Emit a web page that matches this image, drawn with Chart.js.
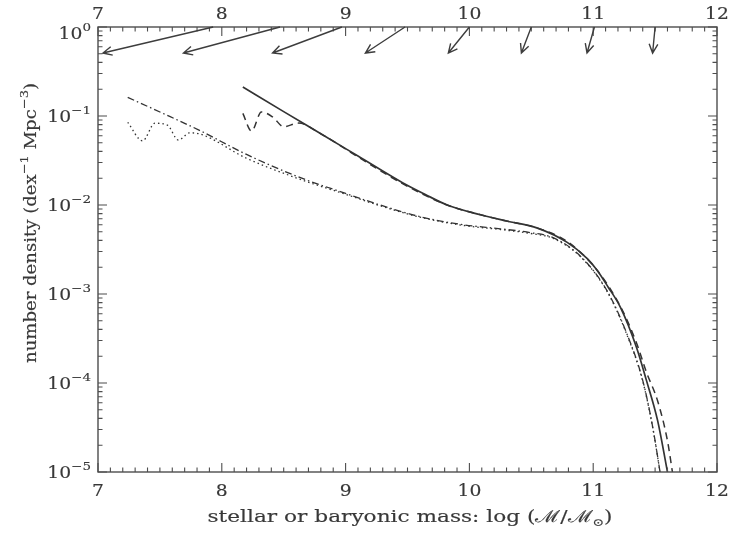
<!DOCTYPE html>
<html>
<head>
<meta charset="utf-8">
<script src="https://cdn.jsdelivr.net/npm/chart.js@4.4.1/dist/chart.umd.min.js"></script>
<style>
  html, body { margin: 0; padding: 0; background: #fff; }
</style>
</head>
<body>
<canvas id="mf" width="733" height="538"></canvas>
<script>
// Mass functions: log stellar/baryonic mass (dex) vs number density (dex^-1 Mpc^-3)

// Stellar mass function, fit (solid)
const stellarMass    = [8.17, 8.5, 8.8, 9.1, 9.46, 9.64, 9.82, 10.09, 10.3, 10.55, 10.79, 10.95, 11.03, 11.12, 11.22, 11.35, 11.43, 11.52, 11.6];
const stellarDensity = [0.212, 0.112, 0.0631, 0.0355, 0.0178, 0.0132, 0.0100, 0.00776, 0.00661, 0.00550, 0.00380, 0.00251, 0.00186, 0.00120, 0.000708, 0.000251, 0.000107, 0.000038, 0.00001];

// Stellar mass function, binned (dashed)
const binnedMass    = [8.17, 8.24, 8.32, 8.41, 8.5, 8.62, 8.8, 9.1, 9.46, 9.82, 10.09, 10.3, 10.55, 10.79, 11.03, 11.22, 11.35, 11.43, 11.52, 11.6, 11.64];
const binnedDensity = [0.107, 0.0676, 0.111, 0.0977, 0.0759, 0.0832, 0.0631, 0.0347, 0.0174, 0.0100, 0.00776, 0.00661, 0.00550, 0.00389, 0.00186, 0.000724, 0.000282, 0.000132, 0.0000631, 0.0000224, 0.00001];

// Baryonic mass function, fit (dash-dot)
const baryonMass    = [7.24, 7.5, 7.82, 8.2, 8.63, 9.0, 9.28, 9.6, 9.95, 10.25, 10.49, 10.68, 10.9, 11.11, 11.27, 11.4, 11.48, 11.54];
const baryonDensity = [0.162, 0.111, 0.069, 0.037, 0.0204, 0.0135, 0.0100, 0.0074, 0.0060, 0.0054, 0.0049, 0.00427, 0.00263, 0.0011, 0.000363, 0.000107, 0.0000324, 0.00001];

// Baryonic mass function, binned (dotted)
const baryonBinMass    = [7.24, 7.36, 7.46, 7.56, 7.65, 7.74, 7.82, 8.2, 8.63, 9.0, 9.28, 9.6, 9.95, 10.25, 10.49, 10.68, 10.9, 11.11, 11.27, 11.4, 11.48, 11.54];
const baryonBinDensity = [0.085, 0.0525, 0.083, 0.079, 0.0537, 0.0646, 0.063, 0.0335, 0.0195, 0.0132, 0.0098, 0.0073, 0.0059, 0.0053, 0.0048, 0.0042, 0.0026, 0.00108, 0.000355, 0.000105, 0.0000318, 0.00001];

// Shift arrows: stellar mass (top) -> baryonic mass (head)
const arrowFromMass = [7.93, 8.47, 8.97, 9.48, 10.0, 10.5, 11.01, 11.5];
const arrowToMass   = [7.04, 7.69, 8.41, 9.16, 9.83, 10.42, 10.95, 11.48];
const arrowFromDensity = 1.0;
const arrowToDensity   = 0.51;

// Axis ticks
const xTickValues = [7, 8, 9, 10, 11, 12];
const yTickExponents = [0, -1, -2, -3, -4, -5];

const INK = '#383838';
const AXIS = '#4d4d4d';
const SERIF = '"DejaVu Serif", "Liberation Serif", serif';

function points(xs, ys) { return xs.map((x, i) => ({ x: x, y: ys[i] })); }

// Text made of pieces (normal / superscript / subscript), drawn with a horizontal stretch
function runsWidth(ctx, runs, sx) {
  let w = 0;
  for (const r of runs) { ctx.font = r.size + 'px ' + SERIF; w += ctx.measureText(r.t).width; }
  return w * sx;
}
function drawRuns(ctx, runs, x, y, sx) {
  ctx.save();
  ctx.translate(x, y);
  ctx.scale(sx, 1);
  let cx = 0;
  for (const r of runs) {
    ctx.font = r.size + 'px ' + SERIF;
    ctx.fillText(r.t, cx, r.dy || 0);
    ctx.strokeText(r.t, cx, r.dy || 0);
    cx += ctx.measureText(r.t).width;
  }
  ctx.restore();
}
function drawCentered(ctx, runs, cx, baseline, sx) {
  const w = runsWidth(ctx, runs, sx);
  drawRuns(ctx, runs, cx - w / 2, baseline, sx);
}

const TICK_SX = 1.17;

const frameAndTicks = {
  id: 'frameAndTicks',
  afterDatasetsDraw(chart) {
    const { ctx, chartArea: a, scales: { x, y } } = chart;
    ctx.save();
    ctx.strokeStyle = AXIS;
    ctx.lineWidth = 1.4;
    ctx.strokeRect(a.left, a.top, a.right - a.left, a.bottom - a.top);
    ctx.lineWidth = 1.1;
    ctx.beginPath();
    // x ticks every 0.1, longer on integers, bottom and top, pointing inward
    for (let i = 70; i <= 120; i++) {
      const px = x.getPixelForValue(i / 10);
      const len = (i % 10 === 0) ? 9 : 4.5;
      ctx.moveTo(px, a.bottom); ctx.lineTo(px, a.bottom - len);
      ctx.moveTo(px, a.top);    ctx.lineTo(px, a.top + len);
    }
    // y ticks: decades long, 2..9 short, left and right
    for (let e = -5; e <= 0; e++) {
      for (let k = 1; k <= 9; k++) {
        if (e === 0 && k > 1) break;
        const py = y.getPixelForValue(k * Math.pow(10, e));
        const len = (k === 1) ? 9 : 4.5;
        ctx.moveTo(a.left, py);  ctx.lineTo(a.left + len, py);
        ctx.moveTo(a.right, py); ctx.lineTo(a.right - len, py);
      }
    }
    ctx.stroke();
    ctx.restore();
  },
  afterDraw(chart) {
    const { ctx, chartArea: a, scales: { x, y } } = chart;
    ctx.save();
    ctx.fillStyle = INK;
    ctx.strokeStyle = INK;
    ctx.lineWidth = 0.15;
    ctx.textBaseline = 'alphabetic';

    // x tick labels, bottom and top
    for (const v of xTickValues) {
      const px = x.getPixelForValue(v);
      const runs = [{ t: String(v), size: 16 }];
      drawCentered(ctx, runs, px, a.bottom + 24, TICK_SX);
      drawCentered(ctx, runs, px, a.top - 8, TICK_SX);
    }

    // y tick labels 10^n (the top one is kept clear of the top axis labels)
    for (const e of yTickExponents) {
      const py = Math.max(y.getPixelForValue(Math.pow(10, e)), a.top + 6);
      const exp = e === 0 ? '0' : '\u2212' + Math.abs(e);
      const runs = [{ t: '10', size: 16 }, { t: exp, size: 11.5, dy: -8 }];
      const w = runsWidth(ctx, runs, TICK_SX);
      drawRuns(ctx, runs, a.left - 7 - w, py + 6, TICK_SX);
    }

    // y axis title, rotated
    ctx.save();
    ctx.translate(36, 223);
    ctx.rotate(-Math.PI / 2);
    const yRuns = [
      { t: 'number density (dex', size: 16 },
      { t: '\u22121', size: 11.5, dy: -8 },
      { t: ' Mpc', size: 16 },
      { t: '\u22123', size: 11.5, dy: -8 },
      { t: ')', size: 16 }
    ];
    const yw0 = runsWidth(ctx, yRuns, 1);
    drawCentered(ctx, yRuns, 0, 0, 280 / yw0);
    ctx.restore();

    // x axis title
    const xRuns = [
      { t: 'stellar or baryonic mass: log (\u2133/\u2133', size: 16.5 },
      { t: '\u2299', size: 10.5, dy: 4 },
      { t: ')', size: 16.5 }
    ];
    const xw0 = runsWidth(ctx, xRuns, 1);
    drawCentered(ctx, xRuns, 410, 522, 405 / xw0);
    ctx.restore();
  }
};

const shiftArrows = {
  id: 'shiftArrows',
  afterDatasetsDraw(chart) {
    const { ctx, scales: { x, y } } = chart;
    ctx.save();
    ctx.strokeStyle = '#3d3d3d';
    ctx.lineWidth = 1.4;
    const y0 = y.getPixelForValue(arrowFromDensity);
    const y1 = y.getPixelForValue(arrowToDensity);
    for (let i = 0; i < arrowFromMass.length; i++) {
      const x0 = x.getPixelForValue(arrowFromMass[i]);
      const x1 = x.getPixelForValue(arrowToMass[i]);
      const ang = Math.atan2(y1 - y0, x1 - x0);
      const head = 10, spread = 0.45;
      ctx.beginPath();
      ctx.moveTo(x0, y0); ctx.lineTo(x1, y1);
      ctx.moveTo(x1 - head * Math.cos(ang - spread), y1 - head * Math.sin(ang - spread));
      ctx.lineTo(x1, y1);
      ctx.lineTo(x1 - head * Math.cos(ang + spread), y1 - head * Math.sin(ang + spread));
      ctx.stroke();
    }
    ctx.restore();
  }
};

const lineBase = {
  showLine: true,
  pointRadius: 0,
  borderColor: '#333333',
  cubicInterpolationMode: 'monotone',
  fill: false
};

new Chart(document.getElementById('mf'), {
  type: 'scatter',
  data: {
    datasets: [
      Object.assign({ label: 'stellar fit', data: points(stellarMass, stellarDensity), borderWidth: 1.7 }, lineBase),
      Object.assign({ label: 'stellar binned', data: points(binnedMass, binnedDensity), borderWidth: 1.5, borderDash: [7, 5] }, lineBase),
      Object.assign({ label: 'baryonic fit', data: points(baryonMass, baryonDensity), borderWidth: 1.3, borderDash: [7, 3, 1.5, 3] }, lineBase),
      Object.assign({ label: 'baryonic binned', data: points(baryonBinMass, baryonBinDensity), borderWidth: 1.3, borderDash: [1.5, 3] }, lineBase)
    ]
  },
  options: {
    responsive: false,
    animation: false,
    layout: { padding: { left: 0, right: 16, top: 0, bottom: 0 } },
    plugins: { legend: { display: false }, tooltip: { enabled: false } },
    scales: {
      x: {
        type: 'linear', position: 'bottom', min: 7, max: 12,
        grid: { display: false, drawTicks: false }, border: { display: false },
        ticks: { display: false },
        afterFit(s) { s.height = 66; }
      },
      xTop: {
        type: 'linear', position: 'top', min: 7, max: 12,
        grid: { display: false, drawTicks: false }, border: { display: false },
        ticks: { display: false },
        afterFit(s) { s.height = 27; }
      },
      y: {
        type: 'logarithmic', position: 'left', min: 1e-5, max: 1,
        grid: { display: false, drawTicks: false }, border: { display: false },
        ticks: { display: false },
        afterFit(s) { s.width = 98; }
      }
    }
  },
  plugins: [frameAndTicks, shiftArrows]
});
</script>
</body>
</html>
